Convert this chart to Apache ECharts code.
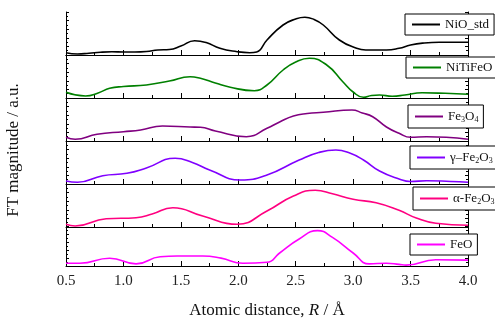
<!DOCTYPE html>
<html>
<head>
<meta charset="utf-8">
<script src="https://cdn.jsdelivr.net/npm/echarts@6/dist/echarts.min.js"></script>
<style>
  html, body { margin: 0; padding: 0; background: #fff; }
  #chart { width: 495px; height: 320px; }
</style>
</head>
<body>
<div id="chart"></div>
<script>
// [R (Å), FT magnitude (a.u.)]
const nioStd = [[0.5,2.3],[0.6,1],[0.7,1.8],[0.8,2.8],[0.9,3.2],[1.0,3],[1.1,3],[1.2,3.5],[1.3,5],[1.4,5.5],[1.5,9],[1.62,14.3],[1.72,12.5],[1.84,6.7],[1.99,3.3],[2.1,2.3],[2.16,3],[2.25,15],[2.39,30],[2.5,36],[2.58,37.7],[2.66,35.5],[2.74,30],[2.88,15],[3.03,6.7],[3.11,5],[3.29,5],[3.4,6.7],[3.5,10],[3.62,12],[3.75,12.7],[3.9,12.7],[4.0,12.7]];
const niTiFeO = [[0.5,5.7],[0.67,2],[0.78,5],[0.88,9.7],[1.0,11.5],[1.2,13],[1.4,17],[1.58,21.3],[1.67,19.7],[1.8,15],[1.93,10.7],[2.14,7.3],[2.25,13],[2.39,28],[2.5,36],[2.62,39.7],[2.77,33],[2.91,16.3],[3.0,6],[3.09,0.7],[3.16,2.5],[3.23,3],[3.34,1.8],[3.45,3],[3.6,5.2],[3.8,4.7],[4.0,3.7]];
const fe3o4 = [[0.5,3.7],[0.58,1.7],[0.77,6.7],[1.0,9.3],[1.15,11],[1.34,15],[1.58,14],[1.67,13.7],[1.8,10],[2.07,4.3],[2.25,12.7],[2.36,19],[2.48,25],[2.6,27.5],[2.74,28.7],[2.99,31],[3.08,28],[3.17,24.3],[3.29,14],[3.4,7.7],[3.5,3.7],[3.64,4.3],[3.81,3.7],[4.0,1.7]];
const gammaFe2O3 = [[0.5,3],[0.6,1.7],[0.82,8.3],[1.03,10.7],[1.2,16],[1.45,25.7],[1.6,21.5],[1.75,14],[2.02,4],[2.25,9],[2.53,24],[2.7,31.5],[2.85,34],[2.97,31],[3.09,24],[3.23,13],[3.4,5],[3.5,2.5],[3.64,3.3],[3.85,2.5],[4.0,1.7]];
const alphaFe2O3 = [[0.5,2.7],[0.58,1],[0.85,8.3],[1.11,9.3],[1.25,13],[1.43,19.3],[1.69,11],[1.99,2.7],[2.25,16],[2.48,31],[2.67,36.7],[2.82,33.3],[3.0,27.7],[3.2,24.3],[3.4,16.7],[3.55,9],[3.72,3.7],[4.0,1.7]];
const feO = [[0.5,3],[0.62,3],[0.88,8.3],[1.11,2.3],[1.32,10],[1.5,10.7],[1.69,10.8],[1.85,8.5],[2.04,3],[2.25,4],[2.36,14],[2.53,29],[2.69,38],[2.82,30.7],[3.0,14],[3.14,2.3],[3.29,3],[3.4,1.7],[3.46,0.9],[3.72,6.7],[4.0,6.3]];

const names = ['NiO_std', 'NiTiFeO', 'Fe3O4', 'g-Fe2O3', 'a-Fe2O3', 'FeO'];
const labels = {
  'NiO_std': '{t|NiO_std}',
  'NiTiFeO': '{t|NiTiFeO}',
  'Fe3O4': '{t|Fe}{s|3}{t|O}{s|4}',
  'g-Fe2O3': '{t|γ–Fe}{s|2}{t|O}{s|3}',
  'a-Fe2O3': '{t|α-Fe}{s|2}{t|O}{s|3}',
  'FeO': '{t|FeO}'
};
const allData = [nioStd, niTiFeO, fe3o4, gammaFe2O3, alphaFe2O3, feO];
const colors = ['#000000', '#008000', '#800080', '#8000ff', '#ff0080', '#ff00ff'];
const legendPos = [[405, 14], [406, 57], [408, 105], [410, 146], [413, 187], [410, 234]];

const font = 'Liberation Serif';
const tops = [12, 55, 98, 141, 184, 226];
const panelH = 43;

const chart = echarts.init(document.getElementById('chart'));

const grids = [], xAxes = [], yAxes = [], series = [], legends = [];
tops.forEach((top, i) => {
  grids.push({ left: 66, right: 27, top: top, height: panelH });
  xAxes.push({
    type: 'value', gridIndex: i, min: 0.5, max: 4.0, interval: 0.5,
    axisLine: { show: true, lineStyle: { color: '#000', width: 1 } },
    axisTick: { show: true, inside: true, length: 5, lineStyle: { color: '#000' } },
    minorTick: { show: true, splitNumber: 2, length: 3, lineStyle: { color: '#000' } },
    splitLine: { show: false },
    axisLabel: {
      show: i === 5, color: '#222', fontFamily: font, fontSize: 15, margin: 8,
      formatter: v => v.toFixed(1)
    },
    name: i === 5 ? '{n|Atomic distance, }{i|R}{n| / Å}' : '',
    nameLocation: 'middle', nameGap: 36,
    nameTextStyle: {
      rich: {
        n: { fontFamily: font, fontSize: 17, color: '#111' },
        i: { fontFamily: font, fontSize: 17, color: '#111', fontStyle: 'italic' }
      }
    }
  });
  yAxes.push({
    type: 'value', gridIndex: i, min: 0, max: panelH, interval: 8.6,
    axisLine: { show: true, lineStyle: { color: '#000', width: 1 } },
    axisTick: { show: true, inside: true, length: 3, lineStyle: { color: '#000' } },
    minorTick: { show: true, splitNumber: 2, length: 2, lineStyle: { color: '#000' } },
    axisLabel: { show: false },
    splitLine: { show: false }
  });
  series.push({
    name: names[i], type: 'line', xAxisIndex: i, yAxisIndex: i,
    data: allData[i], smooth: 0.5, symbol: 'none',
    lineStyle: { color: colors[i], width: 1.6 },
    itemStyle: { color: colors[i] }
  });
  legends.push({
    data: [names[i]], left: legendPos[i][0], top: legendPos[i][1],
    orient: 'horizontal', backgroundColor: '#fff',
    borderColor: '#000', borderWidth: 1, borderRadius: 0, padding: [4, 5, 4, 6],
    itemWidth: 28, itemHeight: 12, itemGap: 4,
    selectedMode: false,
    itemStyle: { opacity: 0 },
    lineStyle: { width: 2 },
    formatter: n => labels[n],
    textStyle: {
      rich: {
        t: { fontFamily: font, fontSize: 13, color: '#111', lineHeight: 15 },
        s: { fontFamily: font, fontSize: 8, color: '#111', lineHeight: 15, verticalAlign: 'bottom', padding: [7, 0, 0, 0] }
      }
    }
  });
});
// right frame line for each panel
tops.forEach((top, i) => {
  yAxes.push({
    type: 'value', gridIndex: i, min: 0, max: panelH, interval: 8.6, position: 'right',
    axisLine: { show: true, lineStyle: { color: '#000', width: 1 } },
    axisTick: { show: true, inside: true, length: 3, lineStyle: { color: '#000' } },
    minorTick: { show: true, splitNumber: 2, length: 2, lineStyle: { color: '#000' } },
    axisLabel: { show: false },
    splitLine: { show: false }
  });
});
// top frame line on first panel
xAxes.push({
  type: 'value', gridIndex: 0, min: 0.5, max: 4.0, interval: 0.5, position: 'top',
  axisLine: { show: true, lineStyle: { color: '#000', width: 1 } },
  axisTick: { show: false }, axisLabel: { show: false }, splitLine: { show: false }
});

chart.setOption({
  animation: false,
  grid: grids,
  xAxis: xAxes,
  yAxis: yAxes,
  legend: legends,
  series: series,
  graphic: [{
    type: 'text', x: 14, y: 150, rotation: Math.PI / 2,
    style: {
      text: 'FT magnitude / a.u.', fontFamily: font, fontSize: 17, fill: '#111',
      align: 'center', verticalAlign: 'middle'
    }
  }]
});
</script>
</body>
</html>
